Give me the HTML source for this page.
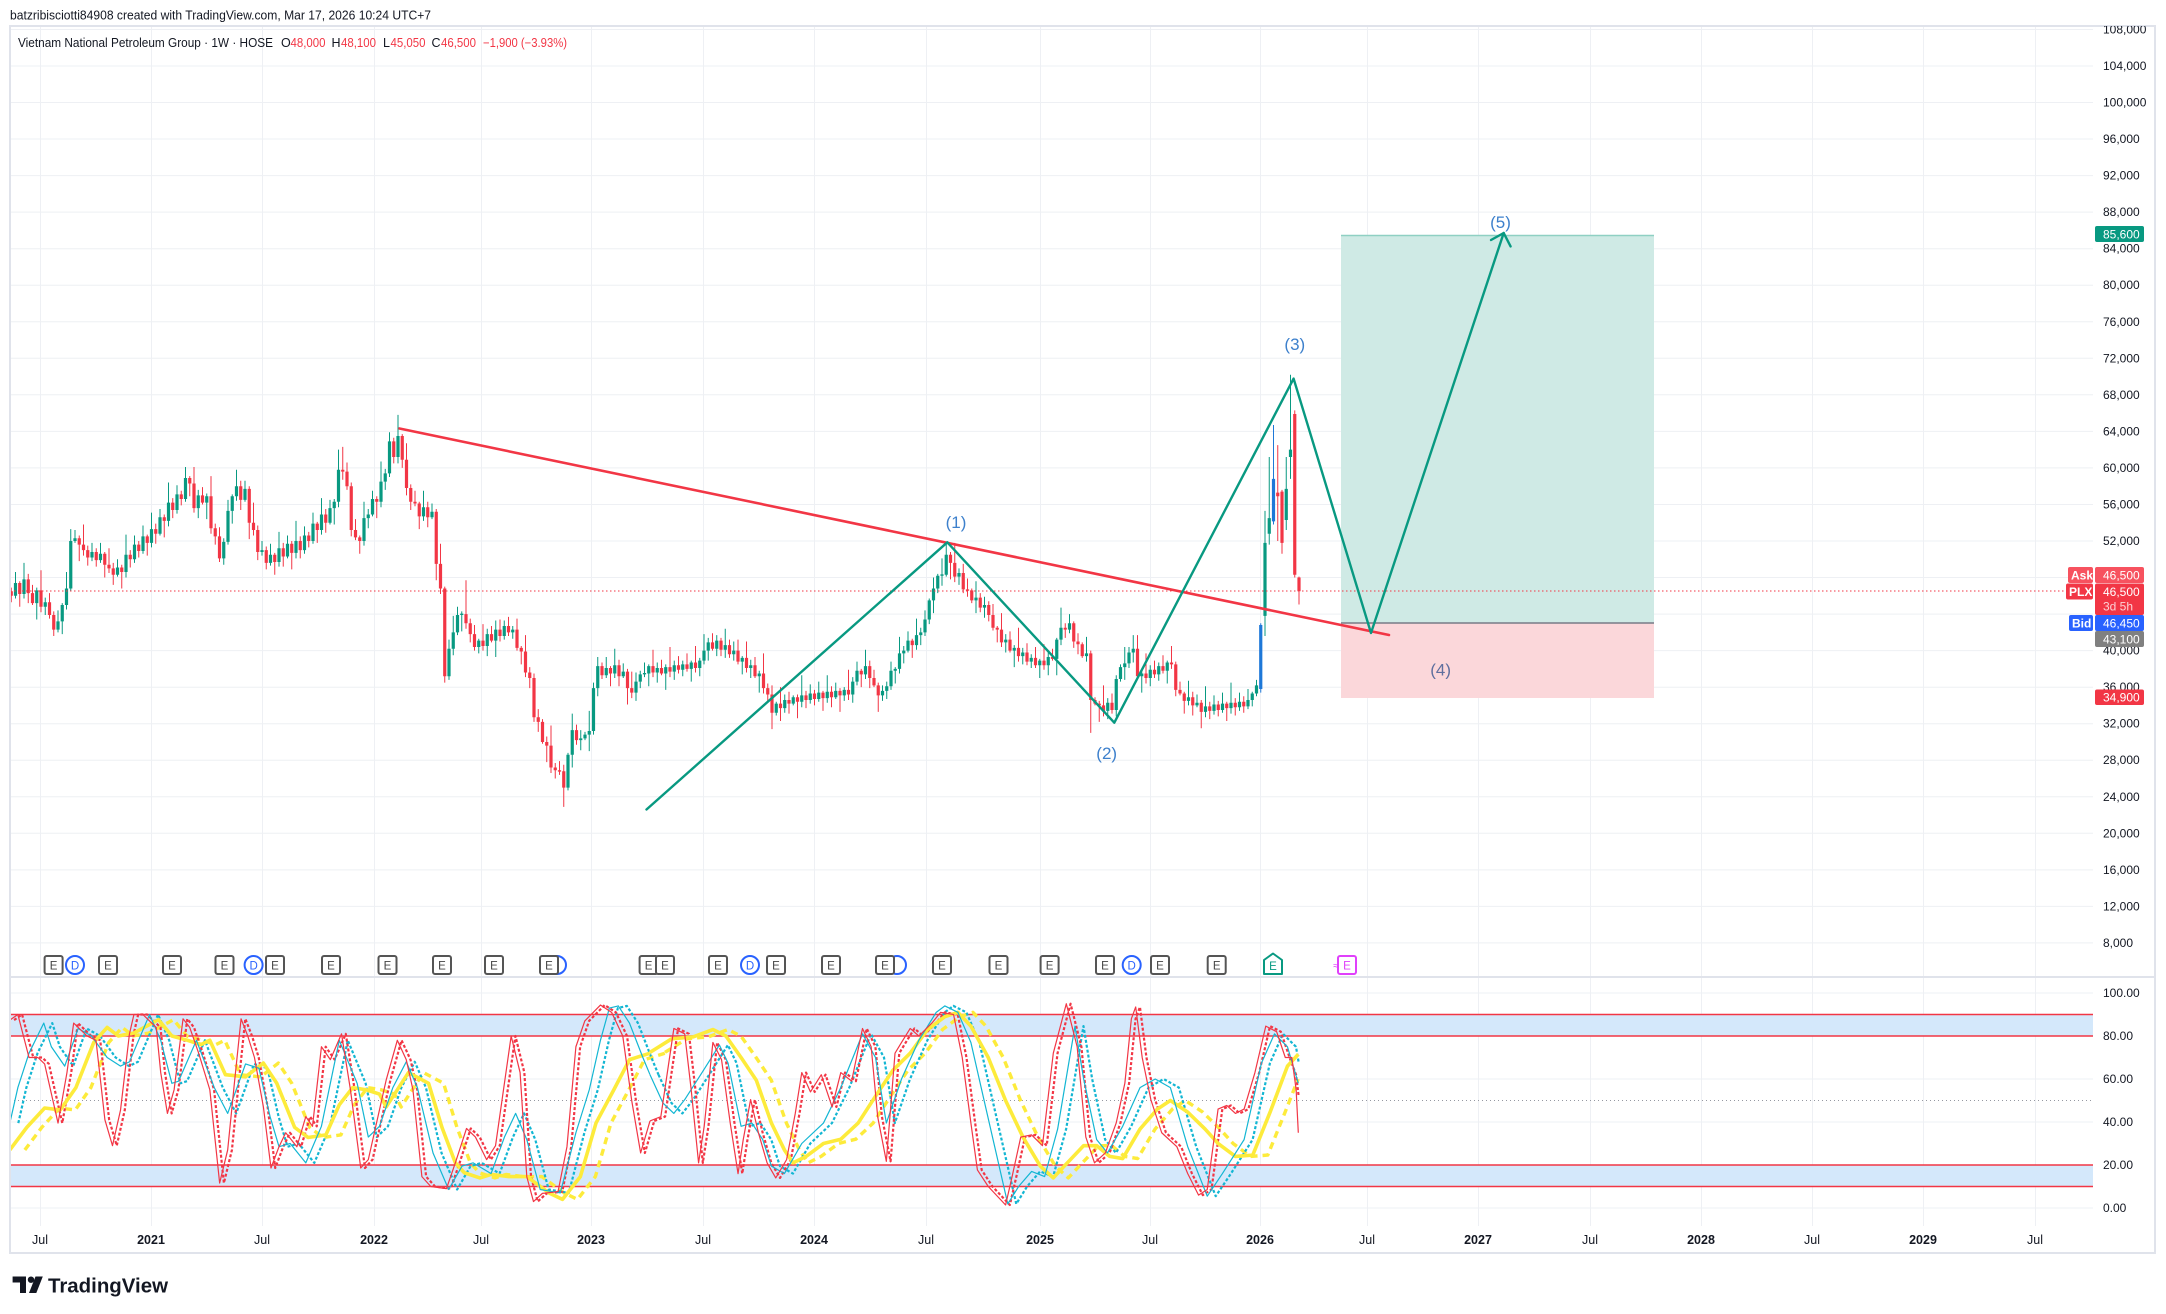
<!DOCTYPE html>
<html><head><meta charset="utf-8">
<style>
html,body{margin:0;padding:0;background:#fff;}
svg{display:block;font-family:"Liberation Sans",sans-serif;}
</style></head><body>
<svg width="2166" height="1314" viewBox="0 0 2166 1314" xmlns="http://www.w3.org/2000/svg">
<defs>
<clipPath id="axclip"><rect x="2093" y="26" width="62" height="1200"/></clipPath>
<clipPath id="plot"><rect x="10" y="26" width="2083" height="951"/></clipPath>
<clipPath id="osc"><rect x="10" y="978" width="2083" height="248"/></clipPath>
</defs>
<rect width="2166" height="1314" fill="#fff"/>

<!-- grid -->
<g stroke="#eef0f4" stroke-width="1">
<path d="M40.5 26V1226M151.5 26V1226M262.5 26V1226M374.5 26V1226M481.5 26V1226M591.5 26V1226M703.5 26V1226M814.5 26V1226M926.5 26V1226M1040.5 26V1226M1150.5 26V1226M1260.5 26V1226M1367.5 26V1226M1478.5 26V1226M1590.5 26V1226M1701.5 26V1226M1812.5 26V1226M1923.5 26V1226M2035.5 26V1226"/>
<path d="M10 29.5H2093M10 66H2093M10 102.5H2093M10 139H2093M10 175.6H2093M10 212.1H2093M10 248.7H2093M10 285.2H2093M10 321.8H2093M10 358.3H2093M10 394.8H2093M10 431.4H2093M10 467.9H2093M10 504.5H2093M10 541H2093M10 577.5H2093M10 614.1H2093M10 650.6H2093M10 687.2H2093M10 723.7H2093M10 760.2H2093M10 796.8H2093M10 833.3H2093M10 869.9H2093M10 906.4H2093M10 942.9H2093"/>
<path d="M10 993H2093M10 1036H2093M10 1079H2093M10 1122H2093M10 1165H2093M10 1208H2093"/>
</g>

<!-- osc bands -->
<rect x="10" y="1014.5" width="2083" height="21.5" fill="#d4e8fb"/>
<rect x="10" y="1165" width="2083" height="21.5" fill="#d4e8fb"/>
<path d="M10 1014.5H2093M10 1036H2093M10 1165H2093M10 1186.5H2093" stroke="#f23645" stroke-width="1.5" fill="none"/>
<path d="M10 1100.5H2093" stroke="#9598a1" stroke-width="1" stroke-dasharray="1 3"/>

<!-- position box -->
<rect x="1341" y="235" width="313" height="388" fill="#cfeae5"/>
<rect x="1341" y="623" width="313" height="75" fill="#fbd7da"/>
<path d="M1341 235.5H1654" stroke="#8fd0c3" stroke-width="1.5"/>
<path d="M1341 623H1654" stroke="#787b86" stroke-width="1.5"/>

<!-- candles -->
<g clip-path="url(#plot)" fill="none">
<g transform="matrix(4.25 0 0 -9.135 11.25 1016.02)">
<path vector-effect="non-scaling-stroke" stroke="#f23645" stroke-width="1" d="M0 46.9V45.3M2 47.6V44.8M4 48.4V45.2M5 47.2V45M7 48.8V44.2M9 46.3V43.5M10 44.3V41.6M16 52.6V49.8M17 53.8V50.4M18 51.5V49.3M20 51.2V49.2M22 50.8V48M23 51.2V48.5M24 49.6V47.2M26 49.4V46.8M28 51V49.1M30 52V50.2M32 52.7V50.4M34 53.9V51.7M36 54.9V52.4M38 56.7V54.5M40 57.5V55.9M42 59.1V56.9M43 60.1V55.1M45 57.9V56M47 59.1V52.8M48 53.9V51.6M49 53.5V49.7M54 58.6V55.4M56 58V52.2M57 56.2V52.6M58 53.7V49.9M60 51.4V48.9M62 50.7V48.3M64 51.8V49.2M66 52V48.9M68 52.5V50.1M70 53V51.3M72 54.1V51.8M74 55.5V52.9M78 62.3V58.7M79 60.6V57.6M80 58.4V52.5M81 54.4V52.1M82 52.6V50.6M86 56.9V54.5M90 63.3V60.5M92 63.7V60M93 62.7V57M94 58.2V55.4M95 57.5V55.8M96 56.3V53.3M98 56.3V53.5M100 55.5V47.7M101 51.7V46.2M102 47V36.5M107 47.7V42.4M108 43.5V40.9M109 42.8V40M111 42.9V40M113 42.7V40.9M115 43.4V41M117 43.7V41.6M119 43.5V40M120 40.5V38.5M121 41.7V37.1M122 38.2V35.9M123 37.5V32.2M124 33.6V31.1M125 32.5V29.8M126 30.6V27.8M127 31.8V26.6M128 27.7V26M129 27.9V26.4M130 27.5V22.9M133 31.9V29.7M139 38.7V36.9M141 38.3V36.1M143 39V36.1M145 38V34.1M146 37.7V34.8M151 40.1V37.1M153 39V37.3M155 40.4V37.1M157 39.4V37.5M159 39.7V37.7M161 40.5V37.6M165 41.9V40M167 41.4V39.4M169 41.2V39.2M171 41.2V38.5M173 41V37.6M175 39.3V37M177 39.7V35.3M178 36.4V34.3M179 36.2V31.4M181 36V32.3M183 35.5V33.1M185 35.2V32.6M187 35.6V33.7M189 35.7V34M191 35.6V33.4M193 36.1V33.8M195 35.9V33.3M197 37.9V34.6M200 38V36M202 38.9V35.9M203 37.9V36M204 36.5V33.3M212 41.3V39.2M221 50.8V47.8M222 51.8V47.5M224 49.5V46.3M225 47.9V45.9M226 46.8V45.2M228 46.3V44.2M230 45.4V43.2M231 45.1V42.2M232 42.7V40.9M233 44.1V40.4M235 42.1V39.8M237 42.5V38.8M239 40.8V38.4M241 40.4V38.1M243 40.7V37.9M245 40.2V38.9M248 43V41.4M250 43.2V40.3M251 41.9V39.6M252 40.9V39.2M254 40V31M255 34.9V34M256 34.5V32.2M257 36.2V32.8M259 35.3V33.1M265 41.7V37M267 39.7V36.4M269 38.9V37M271 39.5V37.5M273 40.5V38M274 38.8V35M275 36.6V35.1M276 35.5V33.1M278 35.5V32.9M280 34.6V31.5M282 34.4V32.5M284 34.5V32.8M286 34.4V32.3M288 34.8V32.9M290 35V33.2M298 62.5V52M299 57.6V50.6M302 66.3V48M303 48.1V45.05"/>
<path vector-effect="non-scaling-stroke" stroke="#f23645" stroke-width="3.2" d="M0 46.5V46M2 47.4V46.2M4 47.8V46.3M5 46.3V45.2M7 46.6V44.8M9 45.3V43.9M10 43.9V42.3M16 52.3V51.6M17 51.6V51M18 51V50.2M20 50.8V49.9M22 50.6V49.4M23 49.4V49M24 49V48.3M26 49.1V48.6M28 50.5V50M30 51.6V50.9M32 52.5V51.8M34 53.3V52.8M36 54.6V54.2M38 56.2V55.4M40 57.1V56.6M42 58.9V58.3M43 58.3V55.6M45 57V56.2M47 56.9V53.4M48 53.4V52.5M49 52.5V50.1M54 58V56.5M56 57.7V54M57 54V53.2M58 53.2V50.8M60 51V49.6M62 50.5V49.7M64 51.2V50.3M66 51.7V50.7M68 52V51M70 52.6V52M72 53.9V53.2M74 54.9V54M78 59.8V59.6M79 59.6V58M80 58V53.2M81 53.2V52.4M82 52.4V52M86 56.6V56.3M90 62.9V61.2M92 63.5V60.9M93 60.9V57.8M94 57.8V56.3M95 56.3V56.1M96 56.1V54.7M98 55.7V54.6M100 55.2V49.5M101 49.5V46.8M102 46.8V37.2M107 44V43M108 43V41.8M109 41.8V40.4M111 41.1V40.5M113 41.8V41.1M115 42.3V41.6M117 42.7V42M119 42.3V40.3M120 40.3V39.9M121 39.9V37.6M122 37.6V37M123 37V32.7M124 32.7V32.2M125 32.2V30M126 30V29.6M127 29.6V27.2M128 27.2V26.9M129 26.9V26.75M130 26.8V25M133 31.3V30.2M139 38.3V37.3M141 38.1V37.5M143 38.4V37.2M145 37.7V35.9M146 35.9V35.4M151 38.3V37.6M153 38.1V37.5M155 38.2V37.7M157 38.4V37.9M159 38.5V38M161 38.7V38.1M165 40.9V40.2M167 41.1V40.1M169 40.6V39.6M171 40V38.8M173 39.2V38.1M175 38.4V37.2M177 37.5V35.9M178 35.9V35.2M179 35.2V33.2M181 34.2V33.7M183 34.6V34.2M185 34.9V34.4M187 35.1V34.6M189 35.3V34.7M191 35.4V34.8M193 35.5V34.9M195 35.6V35.1M197 35.7V35.2M200 37.8V37.4M202 38.3V37M203 37V36.2M204 36.2V35.1M212 41.1V40.6M221 50.5V49.6M222 49.6V48.1M224 48.5V46.7M225 46.7V46.55M226 46.6V45.5M228 45.8V44.7M230 45V43.9M231 43.9V42.5M232 42.5V42.3M233 42.3V40.9M235 41.2V40M237 40.3V39.4M239 39.8V38.8M241 39.2V38.4M243 38.9V38.4M245 39.3V39.1M248 42.5V42.3M250 43V41M251 41V40.7M252 40.7V39.4M254 39.7V34.6M255 34.6V34.2M256 34.2V34M257 34V33.4M259 34.3V33.5M265 40.2V37.2M267 37.5V37M269 37.9V37.4M271 38.3V37.8M273 38.7V38.5M274 38.5V35.7M275 35.7V35.3M276 35.3V34.5M278 34.9V34M280 34.3V33.3M282 33.9V33.4M284 34.1V33.5M286 34.2V33.7M288 34.3V33.8M290 34.4V33.9M298 57.3V56.9M299 57.4V51.8M302 65.9V48.3M303 48V46.5"/>
<path vector-effect="non-scaling-stroke" stroke="#089981" stroke-width="1" d="M1 48.6V45.7M3 49.6V45.7M6 46.9V43.4M8 45.8V43.9M11 44.4V42M12 45.2V41.8M13 48.6V44.5M14 53.3V46.5M15 53.2V51.8M19 51.8V49.8M21 51.8V49.6M25 50V48.1M27 52.7V48M29 52.6V49.6M31 53.7V50.6M33 55.1V51.3M35 55.5V52.6M37 58.4V53.6M39 58.1V55M41 60.1V56.3M44 57.6V54.5M46 57.2V54.4M50 52.3V49.4M51 56.5V51.6M52 57.1V53.9M53 59.8V56.4M55 58.6V56.3M59 52V50.4M61 51.7V49.3M63 53V49.2M65 52.6V50.1M67 54.2V50.1M69 53.6V50.6M71 55.1V51.7M73 56.7V52.7M75 56.5V53.8M76 56.6V53.8M77 62V55.7M83 56.3V51.5M84 55.5V53.4M85 57.5V54.7M87 60.7V55.7M88 59.9V57.6M89 63.9V59M91 65.8V60.5M97 57.5V54.2M99 56.1V54.4M103 41.2V36.8M104 43.8V39.5M105 44.8V41.7M106 44.3V42.1M110 41.3V39.7M112 42.4V39.4M114 43.3V39.3M116 43.3V41.2M118 42.7V41.3M131 28.8V24.7M132 33.1V27.2M134 31.3V29.1M135 31.1V30.2M136 33.4V29M137 36.5V30.8M138 39.3V35M140 39.3V37M142 40.2V37M144 38.6V37M147 37.6V34.5M148 37.8V35.9M149 38.7V37.1M150 38.5V36.1M152 38.7V36.5M154 38.5V35.7M156 38.9V36.8M158 38.9V37.2M160 38.9V36.6M162 39.2V37.2M163 41.8V38.5M164 41.4V38.9M166 41.7V39.4M168 42.4V39.2M170 41V38.9M172 39.4V37.4M174 39V37M176 37.8V35.4M180 34.4V32.9M182 35.2V33.2M184 35.1V34M186 37.3V33.8M188 36.3V34.2M190 36.6V34.4M192 37.3V34.3M194 36.5V34.7M196 36V34.5M198 37.1V34.3M199 38.8V36.2M201 40.1V36.9M205 36.2V34.5M206 36.6V34.7M207 38.8V35.7M208 38.2V36.4M209 41.5V37.5M210 40.5V38.6M211 42.1V39.8M213 43.5V40.1M214 42.5V40.6M215 44.4V41.6M216 45.7V42.9M217 48V44.1M218 48.4V46.3M219 50.1V47.1M220 51.9V48.1M223 49V47.2M227 47.6V44.1M229 45.9V43.6M234 41.8V39.8M236 40.6V38.2M238 40.3V38.5M240 39.6V38.1M242 39.1V37M244 39.9V37.3M246 41.4V37.3M247 44.7V40.6M249 44V41.9M253 41.5V38.8M258 34.8V32.5M260 37.3V32.8M261 38.5V36.6M262 40.4V36.8M263 40.4V38.1M264 41.7V38.7M266 37.8V35.4M268 38.4V36.1M270 38.7V36.7M272 38.9V36.4M277 36.7V34M279 35.2V33.8M281 36.1V32.7M283 35.1V33M285 35.4V33.2M287 36.5V33.1M289 35.4V33.4M291 35.8V33.6M292 35.5V33.9M293 36.8V35M295 55.3V41.6M296 61.2V51.6M300 61.2V53.2M301 70.2V58.8"/>
<path vector-effect="non-scaling-stroke" stroke="#089981" stroke-width="3.2" d="M1 46V47.4M3 46.2V47.8M6 45.2V46.6M8 44.8V45.3M11 42.3V43.2M12 43.2V45M13 45V46.8M14 46.8V52M15 52V52.3M19 50.2V50.8M21 49.9V50.6M25 48.3V49.1M27 48.6V50.5M29 50V51.6M31 50.9V52.5M33 51.8V53.3M35 52.8V54.6M37 54.2V56.2M39 55.4V57.1M41 56.6V58.9M44 55.6V57M46 56.2V56.9M50 50.1V51.9M51 51.9V55.3M52 55.3V56.9M53 56.9V58M55 56.5V57.7M59 50.8V51M61 49.6V50.5M63 49.7V51.2M65 50.3V51.7M67 50.7V52M69 51V52.6M71 52V53.9M73 53.2V54.9M75 54V55.6M76 55.6V56.3M77 56.3V59.8M83 52V54.5M84 54.5V54.9M85 54.9V56.6M87 56.3V58.5M88 58.5V59.4M89 59.4V62.9M91 61.2V63.5M97 54.7V55.7M99 54.6V55.2M103 37.2V40.2M104 40.2V42M105 42V43.9M106 43.9V44.05M110 40.4V41.1M112 40.5V41.8M114 41.1V42.3M116 41.6V42.7M118 42V42.3M131 25V28.6M132 28.6V31.3M134 30.2V30.4M135 30.4V30.8M136 30.8V31.2M137 31.2V35.9M138 35.9V38.3M140 37.3V38.1M142 37.5V38.4M144 37.2V37.7M147 35.4V36.6M148 36.6V37.4M149 37.4V37.55M150 37.5V38.3M152 37.6V38.1M154 37.5V38.2M156 37.7V38.4M158 37.9V38.5M160 38V38.7M162 38.1V38.9M163 38.9V40M164 40V40.9M166 40.2V41.1M168 40.1V40.6M170 39.6V40M172 38.8V39.2M174 38.1V38.4M176 37.2V37.5M180 33.2V34.2M182 33.7V34.6M184 34.2V34.9M186 34.4V35.1M188 34.6V35.3M190 34.7V35.4M192 34.8V35.5M194 34.9V35.6M196 35.1V35.7M198 35.2V36.6M199 36.6V37.8M201 37.4V38.3M205 35.1V35.6M206 35.6V36.1M207 36.1V37.8M208 37.8V38M209 38V39.7M210 39.7V40M211 40V41.1M213 40.6V41.7M214 41.7V42M215 42V43.4M216 43.4V45.5M217 45.5V46.8M218 46.8V48.2M219 48.2V48.35M220 48.3V50.5M223 48.1V48.5M227 45.5V45.8M229 44.7V45M234 40.9V41.2M236 40V40.3M238 39.4V39.8M240 38.8V39.2M242 38.4V38.9M244 38.4V39.3M246 39.1V41.2M247 41.2V42.5M249 42.3V43M253 39.4V39.7M258 33.4V34.3M260 33.5V36.9M261 36.9V38.2M262 38.2V38.6M263 38.6V39.8M264 39.8V40.2M266 37.2V37.5M268 37V37.9M270 37.4V38.3M272 37.8V38.7M277 34.5V34.9M279 34V34.3M281 33.3V33.9M283 33.4V34.1M285 33.5V34.2M287 33.7V34.3M289 33.8V34.4M291 33.9V34.6M292 34.6V35.3M293 35.3V36.2M295 43.8V51.8M296 52.8V54.5M300 54.3V57.7M301 61.2V62"/>
<path vector-effect="non-scaling-stroke" stroke="#1e78d8" stroke-width="1" d="M294 43V35.4M297 64.7V53.8"/>
<path vector-effect="non-scaling-stroke" stroke="#1e78d8" stroke-width="3.2" d="M294 35.8V42.8M297 54.15V58.8"/>
</g>
</g>

<!-- current price line -->
<path d="M10 591H2066" stroke="#f23645" stroke-width="1" stroke-dasharray="1.5 2.5"/>

<!-- drawings -->
<g clip-path="url(#plot)" fill="none" stroke-linecap="round" stroke-linejoin="round">
<path d="M399.5 428.5L1389 635" stroke="#f23645" stroke-width="2.6"/>
<path d="M646.5 809.5L947.3 542.3L1114.3 722.7L1293.6 378.6L1371 633L1503.7 233" stroke="#089981" stroke-width="2.4"/>
<path d="M1491 240L1503.7 233L1510.6 246.4" stroke="#089981" stroke-width="2.4"/>
</g>
<g font-size="17" text-anchor="middle" fill="#3d80cc">
<text x="956" y="528">(1)</text>
<text x="1106.7" y="759">(2)</text>
<text x="1294.8" y="350">(3)</text>
<text x="1500.5" y="228">(5)</text>
<text x="1440.6" y="675.5" fill="#5f6f9e">(4)</text>
</g>

<!-- oscillator -->
<g clip-path="url(#osc)" fill="none" stroke-linejoin="round">
<!-- yellow dotted -->
<g transform="translate(15,0)" stroke="#fdeb3b" stroke-width="3.4" stroke-dasharray="7 5">
<g transform="matrix(0.446429 0 0 -2.15 0 1208)"><path vector-effect="non-scaling-stroke" d="M22 27L60 37.5L100 46.5L135 45.6L170 56L210 77L240 84L265 80L300 81.4L355 87.6L385 80L420 78L450 76L470 78L505 62L550 61L590 67.4L620 58L660 37.5L690 32.8L730 34L760 48L790 56L820 55L850 53L865 47L915 63L960 58L990 37.5L1020 21L1040 16.4L1075 14L1100 15.6L1140 14.6L1180 14.6L1230 7L1260 4L1300 14.6L1335 39.5L1375 55L1410 69L1456 72"/></g>
<g transform="matrix(0.433651 0 0 -2.15 650 1208)"><path vector-effect="non-scaling-stroke" d="M0 72.4L50 78.7L100 79.6L145 83L175 80L210 70L245 59.5L280 39.5L310 27L330 21L360 24L400 30L440 32L480 39.5L520 52L560 64L600 72L640 83L680 89L710 91L740 84.6L780 70L820 50L860 33L900 19.5L930 14L960 20.5L1000 29L1030 29L1060 24L1090 23L1130 36.7L1170 46L1200 50L1240 44.6L1280 36.7L1310 30L1350 24L1390 24.6L1430 44.6L1460 60"/></g>
</g>
<!-- cyan dotted -->
<g transform="translate(8.5,0)" stroke="#13b6d3" stroke-width="2.2" stroke-dasharray="3 2">
<g transform="matrix(0.446429 0 0 -2.15 0 1208)"><path vector-effect="non-scaling-stroke" d="M22 39.5L40 56L65 72L98 86L115 75L145 66L175 83.5L205 80L240 70L270 66L290 68L335 90L360 78L385 58L400 59L440 78L480 56L510 44L550 67L580 65L605 42.5L625 28.5L650 30L685 21L720 38L760 78L800 58L825 33L850 38L880 56L910 68L935 56L970 25.6L1005 8.6L1035 19.5L1060 21L1100 16L1130 33L1155 44L1180 31.8L1210 8.6L1255 7L1290 35L1320 55L1345 78L1365 93L1385 94L1410 86L1440 70L1456 62"/></g>
<g transform="matrix(0.433651 0 0 -2.15 650 1208)"><path vector-effect="non-scaling-stroke" d="M0 62L30 48.8L55 44L80 50.4L120 63L160 75.8L180 67.4L210 38L235 39.5L260 31.8L280 19.5L310 16L350 30L400 39.5L440 56L490 81L520 70L545 39.5L580 60L620 78L660 91L680 94L710 91L740 77L770 50.4L800 24L825 1.9L850 10L880 17L910 14.6L940 36.7L980 84.6L1000 60L1030 31.8L1055 25.6L1090 38L1130 56L1165 60L1200 56L1240 28.5L1285 5.5L1320 16L1370 31.8L1410 67.4L1440 81L1470 75L1476 68"/></g>
</g>
<!-- red dotted -->
<g transform="translate(4.25,0)" stroke="#f23645" stroke-width="2.2" stroke-dasharray="3 2">
<g transform="matrix(0.446429 0 0 -2.15 0 1208)"><path vector-effect="non-scaling-stroke" d="M22 87.4L40 90L65 70L85 70L100 67L130 39.5L150 63L165 86L195 80L215 78L235 41L252 29L270 45.6L290 81L300 90L320 90L350 84L360 63L375 44L390 55L410 88L425 84L445 72L470 55L492 11.6L510 27L525 58L540 88L555 80L570 70L590 47L607 18.6L625 28.5L640 35L665 28.5L685 42.5L700 38L720 75L740 69L765 81L785 55L808 18.6L825 22.5L845 41L865 59.5L890 78L910 69L925 55L945 14.6L965 10L1000 9L1020 21L1045 37L1065 33L1090 22.5L1110 29L1145 80L1165 63L1180 14.6L1195 3L1215 6.8L1250 7.6L1270 28.5L1290 75L1310 87L1345 94.4L1370 91L1395 80L1415 50L1435 25.6L1456 40.5"/></g>
<g transform="matrix(0.433651 0 0 -2.15 650 1208)"><path vector-effect="non-scaling-stroke" d="M0 40.5L25 42.5L55 83.5L80 81L95 55L112 21L125 38L145 77L165 69L185 39.5L203 16L215 31.8L232 50.4L250 35L270 21L290 14L315 22.5L335 44L350 63L370 54L395 62L420 47L440 63L465 59L490 83.5L510 75L525 42.5L545 21.7L565 72L580 77L600 83.5L620 80L650 86L670 91L700 90L720 70L740 39.5L755 17.7L780 10L820 1.4L835 14.6L855 33L880 34L905 29L930 72L960 95L985 75L1005 33L1025 21L1050 25.6L1075 39.5L1095 58L1110 88L1120 93.5L1135 70L1155 50.4L1180 35L1215 28.5L1240 16L1265 6L1285 8.6L1310 46L1330 47.7L1350 44L1370 46L1395 63L1420 84.6L1445 82L1465 70L1480 62L1486 52"/></g>
</g>
<!-- yellow solid -->
<g stroke="#fdeb3b" stroke-width="3.6">
<g transform="matrix(0.446429 0 0 -2.15 0 1208)"><path vector-effect="non-scaling-stroke" d="M22 27L60 37.5L100 46.5L135 45.6L170 56L210 77L240 84L265 80L300 81.4L355 87.6L385 80L420 78L450 76L470 78L505 62L550 61L590 67.4L620 58L660 37.5L690 32.8L730 34L760 48L790 56L820 55L850 53L865 47L915 63L960 58L990 37.5L1020 21L1040 16.4L1075 14L1100 15.6L1140 14.6L1180 14.6L1230 7L1260 4L1300 14.6L1335 39.5L1375 55L1410 69L1456 72"/></g>
<g transform="matrix(0.433651 0 0 -2.15 650 1208)"><path vector-effect="non-scaling-stroke" d="M0 72.4L50 78.7L100 79.6L145 83L175 80L210 70L245 59.5L280 39.5L310 27L330 21L360 24L400 30L440 32L480 39.5L520 52L560 64L600 72L640 83L680 89L710 91L740 84.6L780 70L820 50L860 33L900 19.5L930 14L960 20.5L1000 29L1030 29L1060 24L1090 23L1130 36.7L1170 46L1200 50L1240 44.6L1280 36.7L1310 30L1350 24L1390 24.6L1430 44.6L1470 66L1495 71.5"/></g>
</g>
<!-- cyan solid -->
<g stroke="#13b6d3" stroke-width="1.2">
<g transform="matrix(0.446429 0 0 -2.15 0 1208)"><path vector-effect="non-scaling-stroke" d="M22 39.5L40 56L65 72L98 86L115 75L145 66L175 83.5L205 80L240 70L270 66L290 68L335 90L360 78L385 58L400 59L440 78L480 56L510 44L550 67L580 65L605 42.5L625 28.5L650 30L685 21L720 38L760 78L800 58L825 33L850 38L880 56L910 68L935 56L970 25.6L1005 8.6L1035 19.5L1060 21L1100 16L1130 33L1155 44L1180 31.8L1210 8.6L1255 7L1290 35L1320 55L1345 78L1365 93L1385 94L1410 86L1440 70L1456 62"/></g>
<g transform="matrix(0.433651 0 0 -2.15 650 1208)"><path vector-effect="non-scaling-stroke" d="M0 62L30 48.8L55 44L80 50.4L120 63L160 75.8L180 67.4L210 38L235 39.5L260 31.8L280 19.5L310 16L350 30L400 39.5L440 56L490 81L520 70L545 39.5L580 60L620 78L660 91L680 94L710 91L740 77L770 50.4L800 24L825 1.9L850 10L880 17L910 14.6L940 36.7L980 84.6L1000 60L1030 31.8L1055 25.6L1090 38L1130 56L1165 60L1200 56L1240 28.5L1285 5.5L1320 16L1370 31.8L1410 67.4L1440 81L1470 75L1495 58"/></g>
</g>
<!-- red solid -->
<g stroke="#f23645" stroke-width="1.2">
<g transform="matrix(0.446429 0 0 -2.15 0 1208)"><path vector-effect="non-scaling-stroke" d="M22 87.4L40 90L65 70L85 70L100 67L130 39.5L150 63L165 86L195 80L215 78L235 41L252 29L270 45.6L290 81L300 90L320 90L350 84L360 63L375 44L390 55L410 88L425 84L445 72L470 55L492 11.6L510 27L525 58L540 88L555 80L570 70L590 47L607 18.6L625 28.5L640 35L665 28.5L685 42.5L700 38L720 75L740 69L765 81L785 55L808 18.6L825 22.5L845 41L865 59.5L890 78L910 69L925 55L945 14.6L965 10L1000 9L1020 21L1045 37L1065 33L1090 22.5L1110 29L1145 80L1165 63L1180 14.6L1195 3L1215 6.8L1250 7.6L1270 28.5L1290 75L1310 87L1345 94.4L1370 91L1395 80L1415 50L1435 25.6L1456 40.5"/></g>
<g transform="matrix(0.433651 0 0 -2.15 650 1208)"><path vector-effect="non-scaling-stroke" d="M0 40.5L25 42.5L55 83.5L80 81L95 55L112 21L125 38L145 77L165 69L185 39.5L203 16L215 31.8L232 50.4L250 35L270 21L290 14L315 22.5L335 44L350 63L370 54L395 62L420 47L440 63L465 59L490 83.5L510 75L525 42.5L545 21.7L565 72L580 77L600 83.5L620 80L650 86L670 91L700 90L720 70L740 39.5L755 17.7L780 10L820 1.4L835 14.6L855 33L880 34L905 29L930 72L960 95L985 75L1005 33L1025 21L1050 25.6L1075 39.5L1095 58L1110 88L1120 93.5L1135 70L1155 50.4L1180 35L1215 28.5L1240 16L1265 6L1285 8.6L1310 46L1330 47.7L1350 44L1370 46L1395 63L1420 84.6L1445 82L1465 70L1480 70L1490 55L1495 35"/></g>
</g>
</g>

<!-- events -->
<g font-size="11.5" text-anchor="middle">
<g stroke="#2962ff" stroke-width="2" fill="#fff">
<circle cx="75" cy="965" r="9"/>
<circle cx="253.6" cy="965" r="9"/>
<circle cx="557" cy="965" r="9"/>
<circle cx="750" cy="965" r="9"/>
<circle cx="897" cy="965" r="9"/>
<circle cx="1131.7" cy="965" r="9"/>
</g>
<g fill="#2962ff">
<text x="75" y="969.5">D</text><text x="253.6" y="969.5">D</text><text x="750" y="969.5">D</text><text x="1131.7" y="969.5">D</text>
</g>
<g stroke="#555" stroke-width="2" fill="#fff">
<rect x="44.6" y="956" width="18" height="18" rx="2"/>
<rect x="99" y="956" width="18" height="18" rx="2"/>
<rect x="163" y="956" width="18" height="18" rx="2"/>
<rect x="215.5" y="956" width="18" height="18" rx="2"/>
<rect x="266" y="956" width="18" height="18" rx="2"/>
<rect x="322" y="956" width="18" height="18" rx="2"/>
<rect x="378.5" y="956" width="18" height="18" rx="2"/>
<rect x="433" y="956" width="18" height="18" rx="2"/>
<rect x="485" y="956" width="18" height="18" rx="2"/>
<rect x="540" y="956" width="18" height="18" rx="2"/>
<rect x="639.6" y="956" width="18" height="18" rx="2"/>
<rect x="656" y="956" width="18" height="18" rx="2"/>
<rect x="709" y="956" width="18" height="18" rx="2"/>
<rect x="767" y="956" width="18" height="18" rx="2"/>
<rect x="822" y="956" width="18" height="18" rx="2"/>
<rect x="876" y="956" width="18" height="18" rx="2"/>
<rect x="933" y="956" width="18" height="18" rx="2"/>
<rect x="989.5" y="956" width="18" height="18" rx="2"/>
<rect x="1040.6" y="956" width="18" height="18" rx="2"/>
<rect x="1096" y="956" width="18" height="18" rx="2"/>
<rect x="1151" y="956" width="18" height="18" rx="2"/>
<rect x="1207.7" y="956" width="18" height="18" rx="2"/>
</g>
<g fill="#444">
<text x="53.6" y="969.5">E</text><text x="108" y="969.5">E</text><text x="172" y="969.5">E</text><text x="224.5" y="969.5">E</text><text x="275" y="969.5">E</text><text x="331" y="969.5">E</text><text x="387.5" y="969.5">E</text><text x="442" y="969.5">E</text><text x="494" y="969.5">E</text><text x="549" y="969.5">E</text><text x="648.6" y="969.5">E</text><text x="665" y="969.5">E</text><text x="718" y="969.5">E</text><text x="776" y="969.5">E</text><text x="831" y="969.5">E</text><text x="885" y="969.5">E</text><text x="942" y="969.5">E</text><text x="998.5" y="969.5">E</text><text x="1049.6" y="969.5">E</text><text x="1105" y="969.5">E</text><text x="1160" y="969.5">E</text><text x="1216.7" y="969.5">E</text>
</g>
<path d="M1264 960L1273 953.5L1282 960V974H1264Z" fill="#fff" stroke="#089981" stroke-width="2" stroke-linejoin="round"/>
<text x="1273" y="970" fill="#089981">E</text>
<rect x="1338" y="956" width="18" height="18" rx="2" fill="#fff" stroke="#e040fb" stroke-width="2"/>
<text x="1347" y="969.5" fill="#e040fb">E</text>
<text x="1336" y="969" fill="#e040fb" font-size="10">≈</text>
</g>

<!-- separators / border -->
<path d="M10 977H2155" stroke="#e0e3eb" stroke-width="2"/>
<rect x="10" y="26" width="2145" height="1227" fill="none" stroke="#e0e3eb" stroke-width="2"/>

<!-- price axis labels -->
<g font-size="12" fill="#131722" clip-path="url(#axclip)">
<text x="2103" y="33.5">108,000</text>
<text x="2103" y="70">104,000</text>
<text x="2103" y="106.5">100,000</text>
<text x="2103" y="143">96,000</text>
<text x="2103" y="179.6">92,000</text>
<text x="2103" y="216.1">88,000</text>
<text x="2103" y="252.7">84,000</text>
<text x="2103" y="289.2">80,000</text>
<text x="2103" y="325.8">76,000</text>
<text x="2103" y="362.3">72,000</text>
<text x="2103" y="398.8">68,000</text>
<text x="2103" y="435.4">64,000</text>
<text x="2103" y="471.9">60,000</text>
<text x="2103" y="508.5">56,000</text>
<text x="2103" y="545">52,000</text>
<text x="2103" y="654.6">40,000</text>
<text x="2103" y="691.2">36,000</text>
<text x="2103" y="727.7">32,000</text>
<text x="2103" y="764.2">28,000</text>
<text x="2103" y="800.8">24,000</text>
<text x="2103" y="837.3">20,000</text>
<text x="2103" y="873.9">16,000</text>
<text x="2103" y="910.4">12,000</text>
<text x="2103" y="946.9">8,000</text>
<text x="2103" y="997">100.00</text>
<text x="2103" y="1040">80.00</text>
<text x="2103" y="1083">60.00</text>
<text x="2103" y="1126">40.00</text>
<text x="2103" y="1169">20.00</text>
<text x="2103" y="1212">0.00</text>
</g>

<!-- price label boxes -->
<g font-size="12" fill="#fff">
<rect x="2095" y="226" width="49" height="16" rx="2" fill="#089981"/>
<text x="2103" y="238.5">85,600</text>
<rect x="2068" y="567" width="25" height="16" rx="2" fill="#f7525f"/>
<text x="2071" y="579.5" font-weight="bold">Ask</text>
<rect x="2095" y="567" width="49" height="16" rx="2" fill="#f7525f"/>
<text x="2103" y="579.5">46,500</text>
<rect x="2066" y="583.5" width="27" height="16" rx="2" fill="#f23645"/>
<text x="2069" y="596" font-weight="bold">PLX</text>
<rect x="2095" y="583.5" width="49" height="31.5" rx="2" fill="#f23645"/>
<text x="2103" y="596">46,500</text>
<text x="2103" y="610.5" fill="#fcd0d4">3d 5h</text>
<rect x="2069" y="615" width="24" height="16" rx="2" fill="#2962ff"/>
<text x="2072" y="627.5" font-weight="bold">Bid</text>
<rect x="2095" y="615" width="49" height="16" rx="2" fill="#2962ff"/>
<text x="2103" y="627.5">46,450</text>
<rect x="2095" y="631" width="49" height="16" rx="2" fill="#808080"/>
<text x="2103" y="643.5">43,100</text>
<rect x="2095" y="689.5" width="49" height="15.5" rx="2" fill="#f23645"/>
<text x="2103" y="701.5">34,900</text>
</g>

<!-- time axis -->
<g font-size="12.5" fill="#131722" text-anchor="middle">
<text x="40" y="1244">Jul</text>
<text x="151" y="1244" font-weight="bold">2021</text>
<text x="262" y="1244">Jul</text>
<text x="374" y="1244" font-weight="bold">2022</text>
<text x="481" y="1244">Jul</text>
<text x="591" y="1244" font-weight="bold">2023</text>
<text x="703" y="1244">Jul</text>
<text x="814" y="1244" font-weight="bold">2024</text>
<text x="926" y="1244">Jul</text>
<text x="1040" y="1244" font-weight="bold">2025</text>
<text x="1150" y="1244">Jul</text>
<text x="1260" y="1244" font-weight="bold">2026</text>
<text x="1367" y="1244">Jul</text>
<text x="1478" y="1244" font-weight="bold">2027</text>
<text x="1590" y="1244">Jul</text>
<text x="1701" y="1244" font-weight="bold">2028</text>
<text x="1812" y="1244">Jul</text>
<text x="1923" y="1244" font-weight="bold">2029</text>
<text x="2035" y="1244">Jul</text>
</g>

<!-- header -->
<text x="10" y="19.5" font-size="13" fill="#131722" textLength="421" lengthAdjust="spacingAndGlyphs">batzribisciotti84908 created with TradingView.com, Mar 17, 2026 10:24 UTC+7</text>
<g font-size="12.5" fill="#131722">
<text x="18" y="47" textLength="255" lengthAdjust="spacingAndGlyphs">Vietnam National Petroleum Group · 1W · HOSE</text>
<text x="281" y="47">O</text><text x="290.5" y="47" fill="#f23645" textLength="35" lengthAdjust="spacingAndGlyphs">48,000</text>
<text x="331.5" y="47">H</text><text x="341" y="47" fill="#f23645" textLength="35" lengthAdjust="spacingAndGlyphs">48,100</text>
<text x="383" y="47">L</text><text x="390.5" y="47" fill="#f23645" textLength="35" lengthAdjust="spacingAndGlyphs">45,050</text>
<text x="431.5" y="47">C</text><text x="441" y="47" fill="#f23645" textLength="35" lengthAdjust="spacingAndGlyphs">46,500</text>
<text x="483" y="47" fill="#f23645" textLength="84" lengthAdjust="spacingAndGlyphs">−1,900 (−3.93%)</text>
</g>

<!-- logo -->
<g fill="#131722">
<path d="M12.6 1276.5H26V1293H20V1282.5H12.6Z"/>
<circle cx="31" cy="1279.7" r="3.2"/>
<path d="M35.5 1276.5H42.8L36.3 1293H29Z"/>
<text x="48" y="1292.5" font-size="20" font-weight="bold" textLength="120" lengthAdjust="spacingAndGlyphs">TradingView</text>
</g>
</svg>
</body></html>
